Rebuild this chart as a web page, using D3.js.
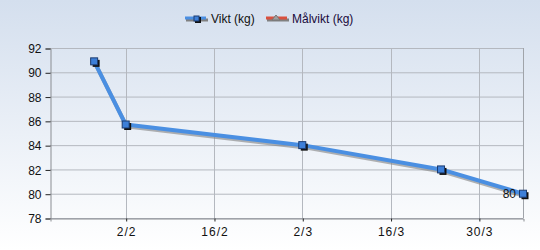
<!DOCTYPE html>
<html><head><meta charset="utf-8">
<script src="https://cdn.jsdelivr.net/npm/d3@7"></script>
<style>
html,body{margin:0;padding:0;}
body{width:540px;height:250px;overflow:hidden;}
text{font-family:"Liberation Sans",Arial,sans-serif;}
</style></head>
<body><svg id="c" width="540" height="250"></svg>
<script>
const dates = ["2023-01-28","2023-02-02","2023-03-02","2023-03-24","2023-04-06"];
const vikt = [90.9, 85.7, 84.0, 82.0, 80.0];
const malDates = ["2023-04-06"];
const malvikt = [80];
const yTicks = [78,80,82,84,86,88,90,92];
const xTickDates = ["2023-02-02","2023-02-16","2023-03-02","2023-03-16","2023-03-30"];
const xTickLabels = ["2/2","16/2","2/3","16/3","30/3"];
const seriesNames = ["Vikt (kg)","Målvikt (kg)"];

const parse = d3.timeParse("%Y-%m-%d");
const svg = d3.select("#c");
const defs = svg.append("defs");
const g1 = defs.append("linearGradient").attr("id","bg").attr("x1",0).attr("y1",0).attr("x2",0).attr("y2",1);
g1.append("stop").attr("offset","0%").attr("stop-color","#d4dfee");
g1.append("stop").attr("offset","100%").attr("stop-color","#ffffff");
svg.append("rect").attr("width",540).attr("height",250).attr("fill","url(#bg)");

const L=50,R=523,T=48,B=218;
const x = d3.scaleTime().domain([parse("2023-01-21"),parse("2023-04-06")]).range([L,R]);
const y = d3.scaleLinear().domain([78,92]).range([B,T]);

// grid
svg.append("g").selectAll("line").data(yTicks).join("line")
  .attr("x1",L).attr("x2",R).attr("y1",d=>y(d)+0.5).attr("y2",d=>y(d)+0.5)
  .attr("stroke","#b4b8bf").attr("stroke-width",1);
svg.append("g").selectAll("line").data(xTickDates).join("line")
  .attr("x1",d=>Math.round(x(parse(d)))+0.5).attr("x2",d=>Math.round(x(parse(d)))+0.5)
  .attr("y1",T).attr("y2",B).attr("stroke","#b4b8bf").attr("stroke-width",1);
svg.append("line").attr("x1",R+0.5).attr("x2",R+0.5).attr("y1",T).attr("y2",B).attr("stroke","#a0a4aa");

// axes
const ya = svg.append("g").attr("transform",`translate(${L+0.5},0.5)`)
  .call(d3.axisLeft(y).tickValues(yTicks).tickSize(5).tickPadding(4).tickFormat(d3.format("d")));
const xa = svg.append("g").attr("transform",`translate(0.5,${B+0.5})`)
  .call(d3.axisBottom(x).tickValues(xTickDates.map(parse)).tickSize(3).tickPadding(6)
    .tickFormat((d,i)=>xTickLabels[i]));
[ya,xa].forEach(a=>{
  a.select(".domain").attr("stroke","#8a8d92");
  a.selectAll(".tick line").attr("stroke","#222");
  a.selectAll("text").attr("font-size","12px").attr("fill","#111").attr("font-family","Liberation Sans, Arial, sans-serif");
});
xa.selectAll("text").attr("letter-spacing","1px");
ya.selectAll("text").attr("dy","0.35em");

// line
const pts = dates.map((d,i)=>[x(parse(d)),y(vikt[i])]);
const line = d3.line();
svg.append("path").attr("d",line(pts.map(p=>[p[0]+1,p[1]+2]))).attr("fill","none")
  .attr("stroke","#808080").attr("stroke-opacity",0.6).attr("stroke-width",4);
svg.append("path").attr("d",line(pts)).attr("fill","none")
  .attr("stroke","#4a8fe2").attr("stroke-width",4).attr("stroke-linejoin","round");
// markers
svg.append("g").selectAll("rect").data(pts).join("rect")
  .attr("x",p=>p[0]-3+1.5).attr("y",p=>p[1]-3+1.5).attr("width",7).attr("height",7).attr("fill","#111");
svg.append("g").selectAll("rect").data(pts).join("rect")
  .attr("x",p=>p[0]-3.5).attr("y",p=>p[1]-3.5).attr("width",7).attr("height",7)
  .attr("fill","#3d7fd8").attr("stroke","#1c3c70").attr("stroke-width",1);

// malvikt label
svg.append("g").selectAll("text").data(malDates).join("text")
  .attr("x",(d)=>x(parse(d))-7).attr("y",(d,i)=>y(malvikt[i])).attr("dy","0.35em")
  .attr("text-anchor","end").attr("font-size","12px").attr("fill","#111").text((d,i)=>d3.format("d")(malvikt[i]));

// legend
const lg = svg.append("g");
// vikt icon
lg.append("line").attr("x1",186).attr("x2",208).attr("y1",20).attr("y2",20).attr("stroke","#808080").attr("stroke-width",3);
lg.append("line").attr("x1",185).attr("x2",206).attr("y1",18).attr("y2",18).attr("stroke","#4a8fe2").attr("stroke-width",3);
lg.append("rect").attr("x",195).attr("y",17).attr("width",6).attr("height",6).attr("fill","#111");
lg.append("rect").attr("x",194).attr("y",16).attr("width",5).attr("height",5).attr("fill","#3d7fd8").attr("stroke","#1c3c70");
lg.append("text").attr("x",211).attr("y",19).attr("dy","0.35em").attr("font-size","12px").attr("fill","#111").text(seriesNames[0]);
// malvikt icon
lg.append("line").attr("x1",267).attr("x2",289).attr("y1",20).attr("y2",20).attr("stroke","#808080").attr("stroke-width",3);
lg.append("line").attr("x1",266).attr("x2",287).attr("y1",18).attr("y2",18).attr("stroke","#d9503e").attr("stroke-width",3);
lg.append("path").attr("d","M276,15 L280,20 L272,20 Z").attr("fill","#a0a0a0").attr("stroke","#777");
lg.append("text").attr("x",292).attr("y",19).attr("dy","0.35em").attr("font-size","12px").attr("fill","#1a0a3a").text(seriesNames[1]);
</script></body></html>
